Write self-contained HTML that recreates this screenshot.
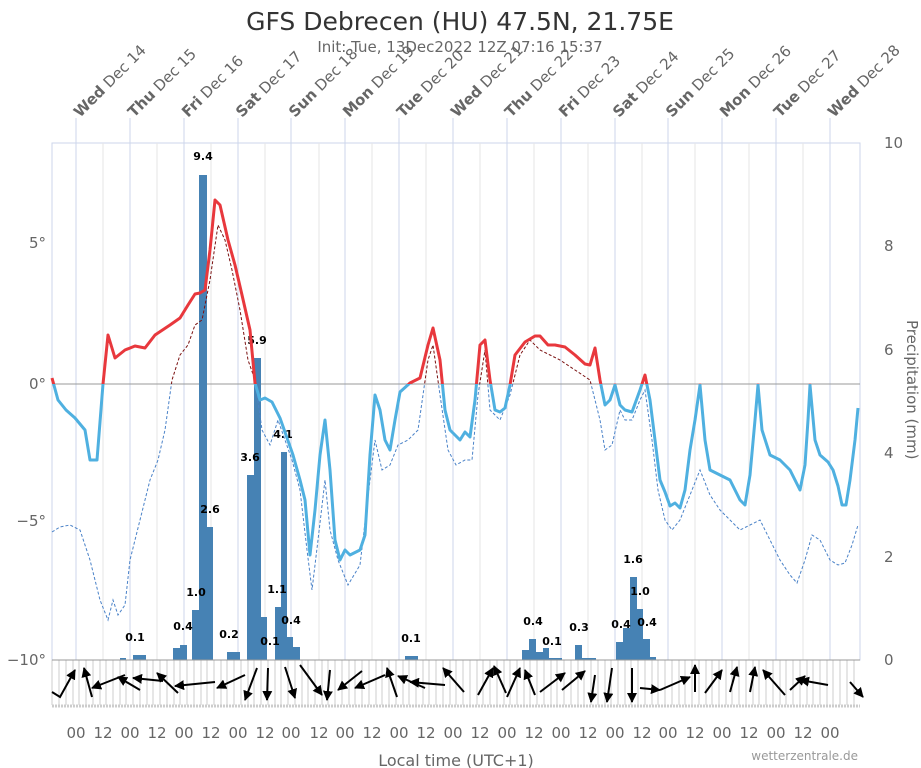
<!DOCTYPE html>
<html><head><meta charset="utf-8"><style>
body{margin:0;background:#fff;}
svg{display:block;font-family:"DejaVu Sans","Liberation Sans",sans-serif;}
</style></head><body>
<svg width="921" height="768" viewBox="0 0 921 768" xmlns="http://www.w3.org/2000/svg">
<defs>
<clipPath id="above"><rect x="0" y="0" width="921" height="384"/></clipPath>
<clipPath id="below"><rect x="0" y="384" width="921" height="400"/></clipPath>
<marker id="ah" viewBox="0 0 10 10" refX="9" refY="5" markerWidth="5" markerHeight="5" orient="auto"><path d="M0,0L10,5L0,10z" fill="#000"/></marker>
</defs>
<text x="460" y="30" font-size="25" text-anchor="middle" fill="#333">GFS Debrecen (HU) 47.5N, 21.75E</text>
<text x="460" y="52" font-size="15" text-anchor="middle" fill="#666">Init: Tue, 13Dec2022 12Z 07:16 15:37</text>
<rect x="52" y="143" width="808" height="517" fill="none" stroke="#ccd6eb"/>
<g stroke="#e6e6e6" stroke-width="1">
<line x1="103" y1="143" x2="103" y2="660"/><line x1="157" y1="143" x2="157" y2="660"/><line x1="211" y1="143" x2="211" y2="660"/><line x1="265" y1="143" x2="265" y2="660"/><line x1="319" y1="143" x2="319" y2="660"/><line x1="372" y1="143" x2="372" y2="660"/><line x1="426" y1="143" x2="426" y2="660"/><line x1="480" y1="143" x2="480" y2="660"/><line x1="534" y1="143" x2="534" y2="660"/><line x1="588" y1="143" x2="588" y2="660"/><line x1="642" y1="143" x2="642" y2="660"/><line x1="695" y1="143" x2="695" y2="660"/><line x1="749" y1="143" x2="749" y2="660"/><line x1="803" y1="143" x2="803" y2="660"/>
</g>
<g stroke="#ccd6eb" stroke-width="1">
<line x1="76" y1="118" x2="76" y2="660"/><line x1="130" y1="118" x2="130" y2="660"/><line x1="184" y1="118" x2="184" y2="660"/><line x1="238" y1="118" x2="238" y2="660"/><line x1="291" y1="118" x2="291" y2="660"/><line x1="345" y1="118" x2="345" y2="660"/><line x1="399" y1="118" x2="399" y2="660"/><line x1="453" y1="118" x2="453" y2="660"/><line x1="507" y1="118" x2="507" y2="660"/><line x1="561" y1="118" x2="561" y2="660"/><line x1="615" y1="118" x2="615" y2="660"/><line x1="668" y1="118" x2="668" y2="660"/><line x1="722" y1="118" x2="722" y2="660"/><line x1="776" y1="118" x2="776" y2="660"/><line x1="830" y1="118" x2="830" y2="660"/>
</g>
<g font-size="15" fill="#666">
<text transform="translate(80,118) rotate(-45)"><tspan font-weight="bold">Wed</tspan> Dec 14</text>
<text transform="translate(134,118) rotate(-45)"><tspan font-weight="bold">Thu</tspan> Dec 15</text>
<text transform="translate(188,118) rotate(-45)"><tspan font-weight="bold">Fri</tspan> Dec 16</text>
<text transform="translate(242,118) rotate(-45)"><tspan font-weight="bold">Sat</tspan> Dec 17</text>
<text transform="translate(295,118) rotate(-45)"><tspan font-weight="bold">Sun</tspan> Dec 18</text>
<text transform="translate(349,118) rotate(-45)"><tspan font-weight="bold">Mon</tspan> Dec 19</text>
<text transform="translate(403,118) rotate(-45)"><tspan font-weight="bold">Tue</tspan> Dec 20</text>
<text transform="translate(457,118) rotate(-45)"><tspan font-weight="bold">Wed</tspan> Dec 21</text>
<text transform="translate(511,118) rotate(-45)"><tspan font-weight="bold">Thu</tspan> Dec 22</text>
<text transform="translate(565,118) rotate(-45)"><tspan font-weight="bold">Fri</tspan> Dec 23</text>
<text transform="translate(619,118) rotate(-45)"><tspan font-weight="bold">Sat</tspan> Dec 24</text>
<text transform="translate(672,118) rotate(-45)"><tspan font-weight="bold">Sun</tspan> Dec 25</text>
<text transform="translate(726,118) rotate(-45)"><tspan font-weight="bold">Mon</tspan> Dec 26</text>
<text transform="translate(780,118) rotate(-45)"><tspan font-weight="bold">Tue</tspan> Dec 27</text>
<text transform="translate(834,118) rotate(-45)"><tspan font-weight="bold">Wed</tspan> Dec 28</text>
</g>
<line x1="52" y1="384" x2="860" y2="384" stroke="#999"/>
<g font-size="15" fill="#666" text-anchor="end">
<text x="46" y="248">5°</text><text x="46" y="389">0°</text><text x="46" y="526">−5°</text><text x="46" y="665">−10°</text>
</g>
<g font-size="15" fill="#666">
<text x="884" y="148">10</text><text x="884" y="251">8</text><text x="884" y="355">6</text><text x="884" y="458">4</text><text x="884" y="562">2</text><text x="884" y="665">0</text>
<text transform="translate(907,320) rotate(90)">Precipitation (mm)</text>
</g>
<g fill="#4682b4">
<rect x="120" y="658" width="6" height="2"/><rect x="133" y="655" width="13" height="5"/><rect x="173" y="648" width="7" height="12"/><rect x="180" y="645" width="7" height="15"/><rect x="192" y="610" width="7" height="50"/><rect x="199" y="175" width="8" height="485"/><rect x="206" y="527" width="7" height="133"/><rect x="227" y="652" width="13" height="8"/><rect x="247" y="475" width="7" height="185"/><rect x="254" y="358" width="7" height="302"/><rect x="261" y="617" width="6" height="43"/><rect x="275" y="607" width="6" height="53"/><rect x="281" y="452" width="6" height="208"/><rect x="287" y="637" width="6" height="23"/><rect x="293" y="647" width="7" height="13"/><rect x="405" y="656" width="13" height="4"/><rect x="522" y="650" width="7" height="10"/><rect x="529" y="639" width="7" height="21"/><rect x="536" y="652" width="7" height="8"/><rect x="543" y="648" width="6" height="12"/><rect x="549" y="658" width="13" height="2"/><rect x="575" y="645" width="7" height="15"/><rect x="582" y="658" width="14" height="2"/><rect x="616" y="642" width="7" height="18"/><rect x="623" y="628" width="7" height="32"/><rect x="630" y="577" width="7" height="83"/><rect x="637" y="609" width="6" height="51"/><rect x="643" y="639" width="7" height="21"/><rect x="650" y="657" width="6" height="3"/>
</g>
<g font-size="11" font-weight="bold" fill="#000" text-anchor="middle">
<text x="135" y="641">0.1</text><text x="183" y="630">0.4</text><text x="196" y="596">1.0</text><text x="203" y="160">9.4</text><text x="210" y="513">2.6</text><text x="229" y="638">0.2</text><text x="250" y="461">3.6</text><text x="257" y="344">5.9</text><text x="270" y="645">0.1</text><text x="277" y="593">1.1</text><text x="283" y="438">4.1</text><text x="291" y="624">0.4</text><text x="411" y="642">0.1</text><text x="533" y="625">0.4</text><text x="552" y="645">0.1</text><text x="579" y="631">0.3</text><text x="621" y="628">0.4</text><text x="633" y="563">1.6</text><text x="640" y="595">1.0</text><text x="647" y="626">0.4</text>
</g>
<g fill="none">
<polyline id="dp" clip-path="url(#below)" stroke="#4a82c8" stroke-width="1" stroke-dasharray="3,2" points="52,532 60,527 70,525 80,530 90,560 100,600 108,620 113,600 118,615 125,605 130,560 140,520 150,480 158,460 165,430 172,380 180,355 188,345 195,325 202,320 210,280 218,225 225,240 232,270 240,310 248,360 255,380 262,430 270,445 278,420 285,440 292,460 300,490 307,550 312,590 318,540 325,480 330,530 338,560 348,585 360,565 370,480 375,440 382,470 390,465 398,445 408,440 418,430 428,360 433,345 440,395 448,450 456,465 465,460 472,460 478,395 485,350 490,410 500,420 510,395 520,355 530,340 540,350 550,355 560,360 575,370 590,380 600,420 605,450 612,445 620,410 625,420 632,420 640,400 645,390 652,440 658,490 665,520 672,530 680,520 690,495 700,470 710,495 720,510 730,520 740,530 750,525 760,520 770,540 780,560 790,575 797,583 805,560 812,535 820,540 830,560 838,565 845,563 852,545 858,525"/>
<polyline clip-path="url(#above)" stroke="#7a1010" stroke-width="1" stroke-dasharray="3,2" points="52,532 60,527 70,525 80,530 90,560 100,600 108,620 113,600 118,615 125,605 130,560 140,520 150,480 158,460 165,430 172,380 180,355 188,345 195,325 202,320 210,280 218,225 225,240 232,270 240,310 248,360 255,380 262,430 270,445 278,420 285,440 292,460 300,490 307,550 312,590 318,540 325,480 330,530 338,560 348,585 360,565 370,480 375,440 382,470 390,465 398,445 408,440 418,430 428,360 433,345 440,395 448,450 456,465 465,460 472,460 478,395 485,350 490,410 500,420 510,395 520,355 530,340 540,350 550,355 560,360 575,370 590,380 600,420"/>
<polyline clip-path="url(#below)" stroke="#4fb0e0" stroke-width="3" stroke-linejoin="round" points="52,378 58,400 66,410 75,418 85,430 90,460 97,460 103,384 108,335 115,358 125,350 135,346 145,348 155,335 170,325 180,318 188,305 195,294 200,293 205,290 210,250 215,200 220,205 228,240 235,265 242,295 250,330 255,383 260,400 265,398 272,402 280,418 286,435 293,455 300,480 305,500 310,555 315,510 320,455 325,420 330,470 335,540 340,560 345,550 350,555 360,550 365,535 370,455 375,395 380,410 385,440 390,450 395,420 400,392 410,383 420,378 428,345 433,328 440,360 445,410 450,430 455,435 460,440 465,432 470,437 475,400 480,345 485,340 490,380 495,410 500,412 505,408 510,385 515,355 525,342 535,336 540,336 548,345 555,345 565,347 575,355 585,364 590,365 595,348 600,380 605,405 610,400 615,385 620,405 625,410 632,412 640,390 645,375 650,400 655,440 660,480 665,492 670,506 675,503 680,508 685,490 690,450 695,420 700,385 705,440 710,470 720,475 730,480 740,500 745,505 750,475 755,420 758,385 762,430 770,455 780,460 790,470 795,480 800,490 805,465 808,420 810,385 815,440 820,455 828,462 833,470 838,486 842,505 846,505 850,480 855,440 858,408"/>
<polyline clip-path="url(#above)" stroke="#e8383d" stroke-width="3" stroke-linejoin="round" points="52,378 58,400 66,410 75,418 85,430 90,460 97,460 103,384 108,335 115,358 125,350 135,346 145,348 155,335 170,325 180,318 188,305 195,294 200,293 205,290 210,250 215,200 220,205 228,240 235,265 242,295 250,330 255,383 260,400 265,398 272,402 280,418 286,435 293,455 300,480 305,500 310,555 315,510 320,455 325,420 330,470 335,540 340,560 345,550 350,555 360,550 365,535 370,455 375,395 380,410 385,440 390,450 395,420 400,392 410,383 420,378 428,345 433,328 440,360 445,410 450,430 455,435 460,440 465,432 470,437 475,400 480,345 485,340 490,380 495,410 500,412 505,408 510,385 515,355 525,342 535,336 540,336 548,345 555,345 565,347 575,355 585,364 590,365 595,348 600,380 605,405 610,400 615,385 620,405 625,410 632,412 640,390 645,375 650,400 655,440 660,480 665,492 670,506 675,503 680,508 685,490 690,450 695,420 700,385 705,440 710,470 720,475 730,480 740,500 745,505 750,475 755,420 758,385 762,430 770,455 780,460 790,470 795,480 800,490 805,465 808,420 810,385 815,440 820,455 828,462 833,470 838,486 842,505 846,505 850,480 855,440 858,408"/>
</g>
<rect x="52" y="660" width="808" height="45" fill="#fff"/>
<g stroke="#ccc" stroke-width="1">
<path d="M52,660V705M59,660V705M66,660V705M73,660V705M79,660V705M86,660V705M93,660V705M100,660V705M106,660V705M113,660V705M120,660V705M126,660V705M133,660V705M140,660V705M147,660V705M153,660V705M160,660V705M167,660V705M174,660V705M180,660V705M187,660V705M194,660V705M201,660V705M207,660V705M214,660V705M221,660V705M227,660V705M234,660V705M241,660V705M248,660V705M254,660V705M261,660V705M268,660V705M275,660V705M281,660V705M288,660V705M295,660V705M302,660V705M308,660V705M315,660V705M322,660V705M328,660V705M335,660V705M342,660V705M349,660V705M355,660V705M362,660V705M369,660V705M376,660V705M382,660V705M389,660V705M396,660V705M403,660V705M409,660V705M416,660V705M423,660V705M429,660V705M436,660V705M443,660V705M450,660V705M456,660V705M463,660V705M470,660V705M477,660V705M483,660V705M490,660V705M497,660V705M504,660V705M510,660V705M517,660V705M524,660V705M530,660V705M537,660V705M544,660V705M551,660V705M557,660V705M564,660V705M571,660V705M578,660V705M584,660V705M591,660V705M598,660V705M605,660V705M611,660V705M618,660V705M625,660V705M631,660V705M638,660V705M645,660V705M652,660V705M658,660V705M665,660V705M672,660V705M679,660V705M685,660V705M692,660V705M699,660V705M706,660V705M712,660V705M719,660V705M726,660V705M732,660V705M739,660V705M746,660V705M753,660V705M759,660V705M766,660V705M773,660V705M780,660V705M786,660V705M793,660V705M800,660V705M807,660V705M813,660V705M820,660V705M827,660V705M833,660V705M840,660V705M847,660V705M854,660V705"/>
</g>
<line x1="52" y1="660" x2="860" y2="660" stroke="#999"/>
<line x1="52" y1="706" x2="860" y2="706" stroke="#ccc" stroke-width="3" stroke-dasharray="2,1"/>
<g stroke="#000" stroke-width="2" marker-end="url(#ah)" fill="none">
<path d="M52,692L60,697L75,670"/><path d="M92,697L84,668"/><path d="M125,675L92,688"/><path d="M140,690L118,677"/><path d="M163,681L133,678"/><path d="M178,693L157,673"/><path d="M215,682L175,686"/><path d="M245,675L217,688"/><path d="M257,668L245,700"/><path d="M268,668L267,700"/><path d="M285,667L295,698"/><path d="M300,665L322,695"/><path d="M330,670L327,700"/><path d="M362,671L338,690"/><path d="M385,675L355,688"/><path d="M397,697L387,668"/><path d="M425,688L398,676"/><path d="M445,685L410,682"/><path d="M464,692L443,668"/><path d="M478,695L493,668"/><path d="M506,693L494,666"/><path d="M507,697L520,668"/><path d="M535,695L525,670"/><path d="M540,692L565,673"/><path d="M562,690L585,671"/><path d="M595,675L591,702"/><path d="M612,668L607,702"/><path d="M632,668L632,702"/><path d="M640,688L660,690"/><path d="M660,690L690,677"/><path d="M695,692L695,665"/><path d="M705,693L722,670"/><path d="M730,692L737,667"/><path d="M750,692L755,667"/><path d="M785,695L763,670"/><path d="M790,690L805,676"/><path d="M828,685L800,680"/><path d="M850,682L863,697"/>
</g>
<g font-size="15" fill="#666" text-anchor="middle">
<text x="76" y="738">00</text><text x="103" y="738">12</text><text x="130" y="738">00</text><text x="157" y="738">12</text><text x="184" y="738">00</text><text x="211" y="738">12</text><text x="238" y="738">00</text><text x="265" y="738">12</text><text x="291" y="738">00</text><text x="319" y="738">12</text><text x="345" y="738">00</text><text x="372" y="738">12</text><text x="399" y="738">00</text><text x="426" y="738">12</text><text x="453" y="738">00</text><text x="480" y="738">12</text><text x="507" y="738">00</text><text x="534" y="738">12</text><text x="561" y="738">00</text><text x="588" y="738">12</text><text x="615" y="738">00</text><text x="642" y="738">12</text><text x="668" y="738">00</text><text x="695" y="738">12</text><text x="722" y="738">00</text><text x="749" y="738">12</text><text x="776" y="738">00</text><text x="803" y="738">12</text><text x="830" y="738">00</text>
<text x="456" y="766" font-size="16">Local time (UTC+1)</text>
</g>
<text x="858" y="760" font-size="12" fill="#999" text-anchor="end">wetterzentrale.de</text>
</svg>
</body></html>
